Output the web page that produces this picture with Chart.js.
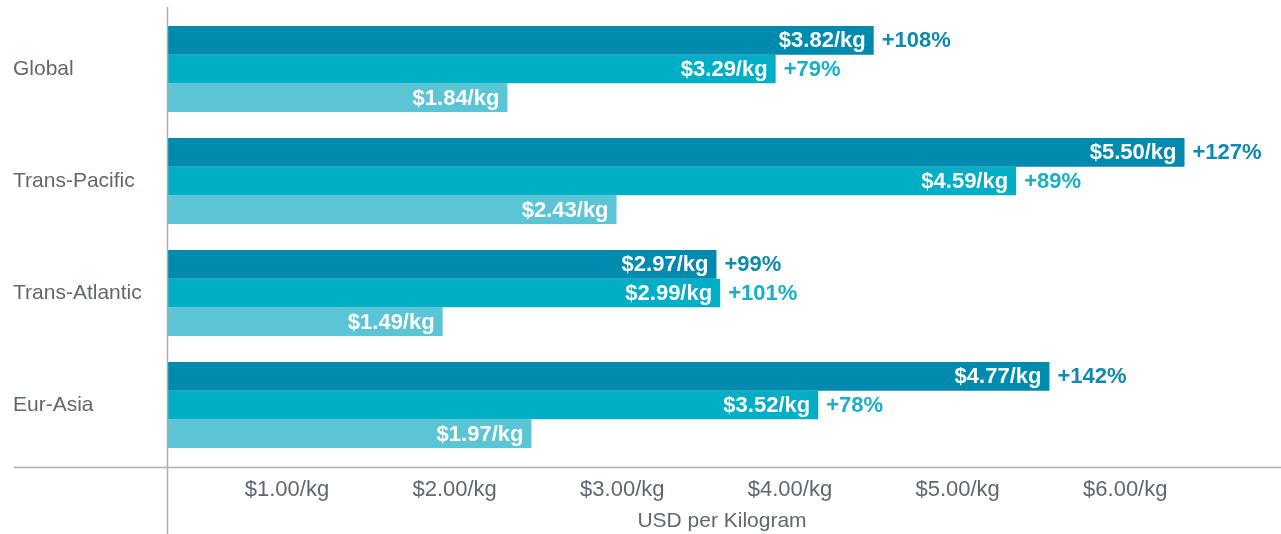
<!DOCTYPE html>
<html>
<head>
<meta charset="utf-8">
<script src="https://cdn.jsdelivr.net/npm/chart.js@4/dist/chart.umd.min.js"></script>
<style>
html,body{margin:0;padding:0;background:#fff;}
#wrap{width:1281px;height:534px;position:relative;}
</style>
</head>
<body>
<div id="wrap"><canvas id="c"></canvas></div>
<script>
const categories = ["Global", "Trans-Pacific", "Trans-Atlantic", "Eur-Asia"];
const seriesLatest = [3.82, 5.50, 2.97, 4.77];
const seriesMid = [3.29, 4.59, 2.99, 3.52];
const seriesBase = [1.84, 2.43, 1.49, 1.97];
const pctLatest = ["+108%", "+127%", "+99%", "+142%"];
const pctMid = ["+79%", "+89%", "+101%", "+78%"];
const tickValues = [1, 2, 3, 4, 5, 6];
const axisTitle = "USD per Kilogram";

const colDark = "#008aad", colMid = "#00aec6", colLight = "#5bc5d5";
const txtGray = "#5d6870";
const lineGray = "#a9aeb3";
const FONT = "'Liberation Sans', Arial, Helvetica, sans-serif";

const fmt = v => "$" + v.toFixed(2) + "/kg";

const labelPlugin = {
  id: "labels",
  afterDatasetsDraw(chart) {
    const ctx = chart.ctx;
    ctx.save();
    ctx.textBaseline = "middle";
    ctx.font = "bold 22px " + FONT;
    chart.data.datasets.forEach((ds, di) => {
      const meta = chart.getDatasetMeta(di);
      meta.data.forEach((bar, i) => {
        ctx.fillStyle = "#ffffff";
        ctx.textAlign = "right";
        ctx.fillText(fmt(ds.data[i]), bar.x - 8, bar.y + 1);
        if (ds.pct) {
          ctx.fillStyle = ds.pctColor;
          ctx.textAlign = "left";
          ctx.fillText(ds.pct[i], bar.x + 8, bar.y + 1);
        }
      });
    });
    ctx.restore();
  }
};

const linesPlugin = {
  id: "axlines",
  afterDraw(chart) {
    const ctx = chart.ctx, a = chart.chartArea;
    ctx.save();
    ctx.strokeStyle = lineGray;
    ctx.lineWidth = 1.5;
    ctx.beginPath();
    ctx.moveTo(a.left + 0.5, 7);
    ctx.lineTo(a.left + 0.5, 534);
    ctx.moveTo(14, a.bottom + 6.5);
    ctx.lineTo(1281, a.bottom + 6.5);
    ctx.stroke();
    ctx.restore();
  }
};

new Chart(document.getElementById("c"), {
  type: "bar",
  data: {
    labels: categories,
    datasets: [
      { label: "Latest", data: seriesLatest, backgroundColor: colDark, pct: pctLatest, pctColor: "#0f89ad" },
      { label: "Mid", data: seriesMid, backgroundColor: colMid, pct: pctMid, pctColor: "#17b0c8" },
      { label: "Base", data: seriesBase, backgroundColor: colLight }
    ]
  },
  options: {
    indexAxis: "y",
    responsive: true,
    maintainAspectRatio: false,
    animation: false,
    datasets: { bar: { categoryPercentage: 0.77, barPercentage: 1.0 } },
    layout: { padding: { left: 13, top: 13, right: 4, bottom: 0 } },
    plugins: { legend: { display: false }, tooltip: { enabled: false } },
    scales: {
      y: {
        position: "left",
        grid: { display: false },
        border: { display: false },
        afterFit(s) { s.width = 154; },
        ticks: {
          crossAlign: "far",
          color: txtGray,
          font: { family: FONT, size: 21 },
          padding: 0
        }
      },
      x: {
        display: false,
        min: 0,
        max: 6
      },
      x2: {
        position: "bottom",
        type: "linear",
        min: 0.2843,
        max: 6.905,
        grid: { display: false, drawTicks: false },
        border: { display: false },
        afterBuildTicks(s) { s.ticks = tickValues.map(v => ({ value: v })); },
        afterFit(s) { s.height = 73; },
        ticks: {
          color: txtGray,
          font: { family: FONT, size: 22 },
          padding: 16,
          callback: v => fmt(v)
        },
        title: {
          display: true,
          text: axisTitle,
          color: txtGray,
          font: { family: FONT, size: 21 },
          padding: { top: 0, bottom: 0 }
        }
      }
    }
  },
  plugins: [labelPlugin, linesPlugin]
});
</script>
</body>
</html>
